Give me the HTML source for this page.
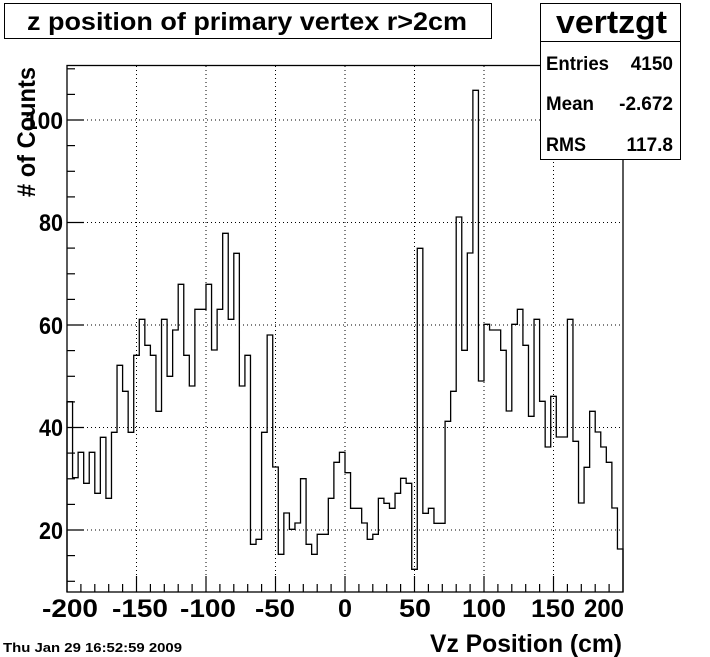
<!DOCTYPE html>
<html><head><meta charset="utf-8"><style>
html,body{margin:0;padding:0;background:#fff;}
svg{display:block;}
text{font-family:"Liberation Sans",Arial,sans-serif;font-weight:bold;fill:#000;}
</style></head><body>
<svg width="710" height="657" viewBox="0 0 710 657" xmlns="http://www.w3.org/2000/svg">
<rect x="0" y="0" width="710" height="657" fill="#fff"/>
<g stroke="#000" stroke-width="1" stroke-dasharray="1,3" fill="none">
<line x1="136.5" y1="66" x2="136.5" y2="592"/>
<line x1="206" y1="66" x2="206" y2="592"/>
<line x1="275.5" y1="66" x2="275.5" y2="592"/>
<line x1="345" y1="66" x2="345" y2="592"/>
<line x1="414.5" y1="66" x2="414.5" y2="592"/>
<line x1="484" y1="66" x2="484" y2="592"/>
<line x1="553.5" y1="66" x2="553.5" y2="592"/>
<line x1="67" y1="120" x2="623" y2="120"/>
<line x1="67" y1="222.5" x2="623" y2="222.5"/>
<line x1="67" y1="325" x2="623" y2="325"/>
<line x1="67" y1="427.5" x2="623" y2="427.5"/>
<line x1="67" y1="530" x2="623" y2="530"/>
</g>
<path fill="none" stroke="#000" stroke-width="1.3" d="M67,592 V401.7 h5.56 V477.7 h5.56 V452.3 h5.56 V483.3 h5.56 V452.3 h5.56 V493.3 h5.56 V437.3 h5.56 V498.3 h5.56 V432.3 h5.56 V365.3 h5.56 V391.3 h5.56 V432.3 h5.56 V355.3 h5.56 V319.3 h5.56 V345.3 h5.56 V355.3 h5.56 V411.3 h5.56 V319.3 h5.56 V376.3 h5.56 V330 h5.56 V284.3 h5.56 V355.3 h5.56 V386 h5.56 V309.3 h5.56 V309.3 h5.56 V284.3 h5.56 V350 h5.56 V309.3 h5.56 V233.3 h5.56 V319.3 h5.56 V253.3 h5.56 V386 h5.56 V355.3 h5.56 V544.3 h5.56 V539.3 h5.56 V432.3 h5.56 V335 h5.56 V467 h5.56 V554.3 h5.56 V513 h5.56 V529.3 h5.56 V523 h5.56 V478.7 h5.56 V544.3 h5.56 V554.3 h5.56 V534.3 h5.56 V534.3 h5.56 V498.3 h5.56 V462.3 h5.56 V452.3 h5.56 V472.7 h5.56 V508.3 h5.56 V508.3 h5.56 V523 h5.56 V539.3 h5.56 V534.3 h5.56 V498.3 h5.56 V503.3 h5.56 V508.3 h5.56 V493.3 h5.56 V478.3 h5.56 V483.3 h5.56 V569.3 h5.56 V248.3 h5.56 V513.3 h5.56 V508.3 h5.56 V523.3 h5.56 V523.3 h5.56 V421.3 h5.56 V391.3 h5.56 V217 h5.56 V350.3 h5.56 V253 h5.56 V90.3 h5.56 V381 h5.56 V324.3 h5.56 V330 h5.56 V330 h5.56 V350.3 h5.56 V411 h5.56 V324.3 h5.56 V309.3 h5.56 V345.3 h5.56 V416.3 h5.56 V319.3 h5.56 V401.3 h5.56 V447 h5.56 V396.3 h5.56 V437 h5.56 V437 h5.56 V319.3 h5.56 V441.3 h5.56 V503 h5.56 V467.3 h5.56 V411.3 h5.56 V432 h5.56 V447 h5.56 V462.3 h5.56 V508 h5.56 V549 h5.56 V592"/>
<rect x="67" y="65.5" width="556" height="526.5" fill="none" stroke="#000" stroke-width="1.3"/>
<g stroke="#000" stroke-width="1.2">
<line x1="67" y1="120" x2="84" y2="120"/><line x1="67" y1="222.5" x2="84" y2="222.5"/><line x1="67" y1="325" x2="84" y2="325"/><line x1="67" y1="427.5" x2="84" y2="427.5"/><line x1="67" y1="530" x2="84" y2="530"/>
<line x1="67" y1="68.8" x2="75" y2="68.8"/><line x1="67" y1="94.4" x2="75" y2="94.4"/><line x1="67" y1="145.6" x2="75" y2="145.6"/><line x1="67" y1="171.3" x2="75" y2="171.3"/><line x1="67" y1="196.9" x2="75" y2="196.9"/>
<line x1="67" y1="248.1" x2="75" y2="248.1"/><line x1="67" y1="273.8" x2="75" y2="273.8"/><line x1="67" y1="299.4" x2="75" y2="299.4"/>
<line x1="67" y1="350.6" x2="75" y2="350.6"/><line x1="67" y1="376.3" x2="75" y2="376.3"/><line x1="67" y1="401.9" x2="75" y2="401.9"/>
<line x1="67" y1="453.1" x2="75" y2="453.1"/><line x1="67" y1="478.8" x2="75" y2="478.8"/><line x1="67" y1="504.4" x2="75" y2="504.4"/>
<line x1="67" y1="555.6" x2="75" y2="555.6"/><line x1="67" y1="581.3" x2="75" y2="581.3"/>
<line x1="136.5" y1="592" x2="136.5" y2="576"/><line x1="206" y1="592" x2="206" y2="576"/><line x1="275.5" y1="592" x2="275.5" y2="576"/><line x1="345" y1="592" x2="345" y2="576"/><line x1="414.5" y1="592" x2="414.5" y2="576"/><line x1="484" y1="592" x2="484" y2="576"/><line x1="553.5" y1="592" x2="553.5" y2="576"/>
<line x1="80.9" y1="592" x2="80.9" y2="584"/><line x1="94.8" y1="592" x2="94.8" y2="584"/><line x1="108.7" y1="592" x2="108.7" y2="584"/><line x1="122.6" y1="592" x2="122.6" y2="584"/>
<line x1="150.4" y1="592" x2="150.4" y2="584"/><line x1="164.3" y1="592" x2="164.3" y2="584"/><line x1="178.2" y1="592" x2="178.2" y2="584"/><line x1="192.1" y1="592" x2="192.1" y2="584"/>
<line x1="219.9" y1="592" x2="219.9" y2="584"/><line x1="233.8" y1="592" x2="233.8" y2="584"/><line x1="247.7" y1="592" x2="247.7" y2="584"/><line x1="261.6" y1="592" x2="261.6" y2="584"/>
<line x1="289.4" y1="592" x2="289.4" y2="584"/><line x1="303.3" y1="592" x2="303.3" y2="584"/><line x1="317.2" y1="592" x2="317.2" y2="584"/><line x1="331.1" y1="592" x2="331.1" y2="584"/>
<line x1="358.9" y1="592" x2="358.9" y2="584"/><line x1="372.8" y1="592" x2="372.8" y2="584"/><line x1="386.7" y1="592" x2="386.7" y2="584"/><line x1="400.6" y1="592" x2="400.6" y2="584"/>
<line x1="428.4" y1="592" x2="428.4" y2="584"/><line x1="442.3" y1="592" x2="442.3" y2="584"/><line x1="456.2" y1="592" x2="456.2" y2="584"/><line x1="470.1" y1="592" x2="470.1" y2="584"/>
<line x1="497.9" y1="592" x2="497.9" y2="584"/><line x1="511.8" y1="592" x2="511.8" y2="584"/><line x1="525.7" y1="592" x2="525.7" y2="584"/><line x1="539.6" y1="592" x2="539.6" y2="584"/>
<line x1="567.4" y1="592" x2="567.4" y2="584"/><line x1="581.3" y1="592" x2="581.3" y2="584"/><line x1="595.2" y1="592" x2="595.2" y2="584"/><line x1="609.1" y1="592" x2="609.1" y2="584"/>
</g>
<g font-size="24" text-anchor="end" lengthAdjust="spacingAndGlyphs">
<text x="63" y="129" textLength="38" lengthAdjust="spacingAndGlyphs">100</text>
<text x="63" y="231" textLength="24" lengthAdjust="spacingAndGlyphs">80</text>
<text x="63" y="334" textLength="24" lengthAdjust="spacingAndGlyphs">60</text>
<text x="63" y="436" textLength="24" lengthAdjust="spacingAndGlyphs">40</text>
<text x="63" y="539" textLength="24" lengthAdjust="spacingAndGlyphs">20</text>
</g>
<g font-size="25">
<text x="42" y="617" textLength="56" lengthAdjust="spacingAndGlyphs">-200</text>
<text x="112" y="617" textLength="56" lengthAdjust="spacingAndGlyphs">-150</text>
<text x="180" y="617" textLength="56" lengthAdjust="spacingAndGlyphs">-100</text>
<text x="255" y="617" textLength="40" lengthAdjust="spacingAndGlyphs">-50</text>
<text x="338" y="617" textLength="14" lengthAdjust="spacingAndGlyphs">0</text>
<text x="399" y="617" textLength="32" lengthAdjust="spacingAndGlyphs">50</text>
<text x="462" y="617" textLength="44" lengthAdjust="spacingAndGlyphs">100</text>
<text x="531" y="617" textLength="44" lengthAdjust="spacingAndGlyphs">150</text>
<text x="584" y="617" textLength="40" lengthAdjust="spacingAndGlyphs">200</text>
</g>
<text x="430" y="652" font-size="25" textLength="192" lengthAdjust="spacingAndGlyphs">Vz Position (cm)</text>
<text transform="translate(35,197) rotate(-90)" font-size="25" textLength="130" lengthAdjust="spacingAndGlyphs"># of Counts</text>
<text x="3" y="652" font-size="13" textLength="179" lengthAdjust="spacingAndGlyphs">Thu Jan 29 16:52:59 2009</text>
<rect x="4.5" y="3.5" width="487" height="35" fill="#fff" stroke="#000" stroke-width="1"/>
<text x="27" y="30" font-size="25" textLength="440" lengthAdjust="spacingAndGlyphs">z position of primary vertex r&gt;2cm</text>
<rect x="540.5" y="3.5" width="140" height="156" fill="#fff" stroke="#000" stroke-width="1"/>
<line x1="540.5" y1="41.5" x2="680.5" y2="41.5" stroke="#000" stroke-width="1"/>
<text x="556" y="33" font-size="32" textLength="111" lengthAdjust="spacingAndGlyphs">vertzgt</text>
<g font-size="19">
<text x="546" y="70" textLength="63" lengthAdjust="spacingAndGlyphs">Entries</text><text x="673" y="70" text-anchor="end">4150</text>
<text x="546" y="110" textLength="48" lengthAdjust="spacingAndGlyphs">Mean</text><text x="673" y="110" text-anchor="end">-2.672</text>
<text x="546" y="151" textLength="40" lengthAdjust="spacingAndGlyphs">RMS</text><text x="673" y="151" text-anchor="end">117.8</text>
</g>
</svg>
</body></html>
